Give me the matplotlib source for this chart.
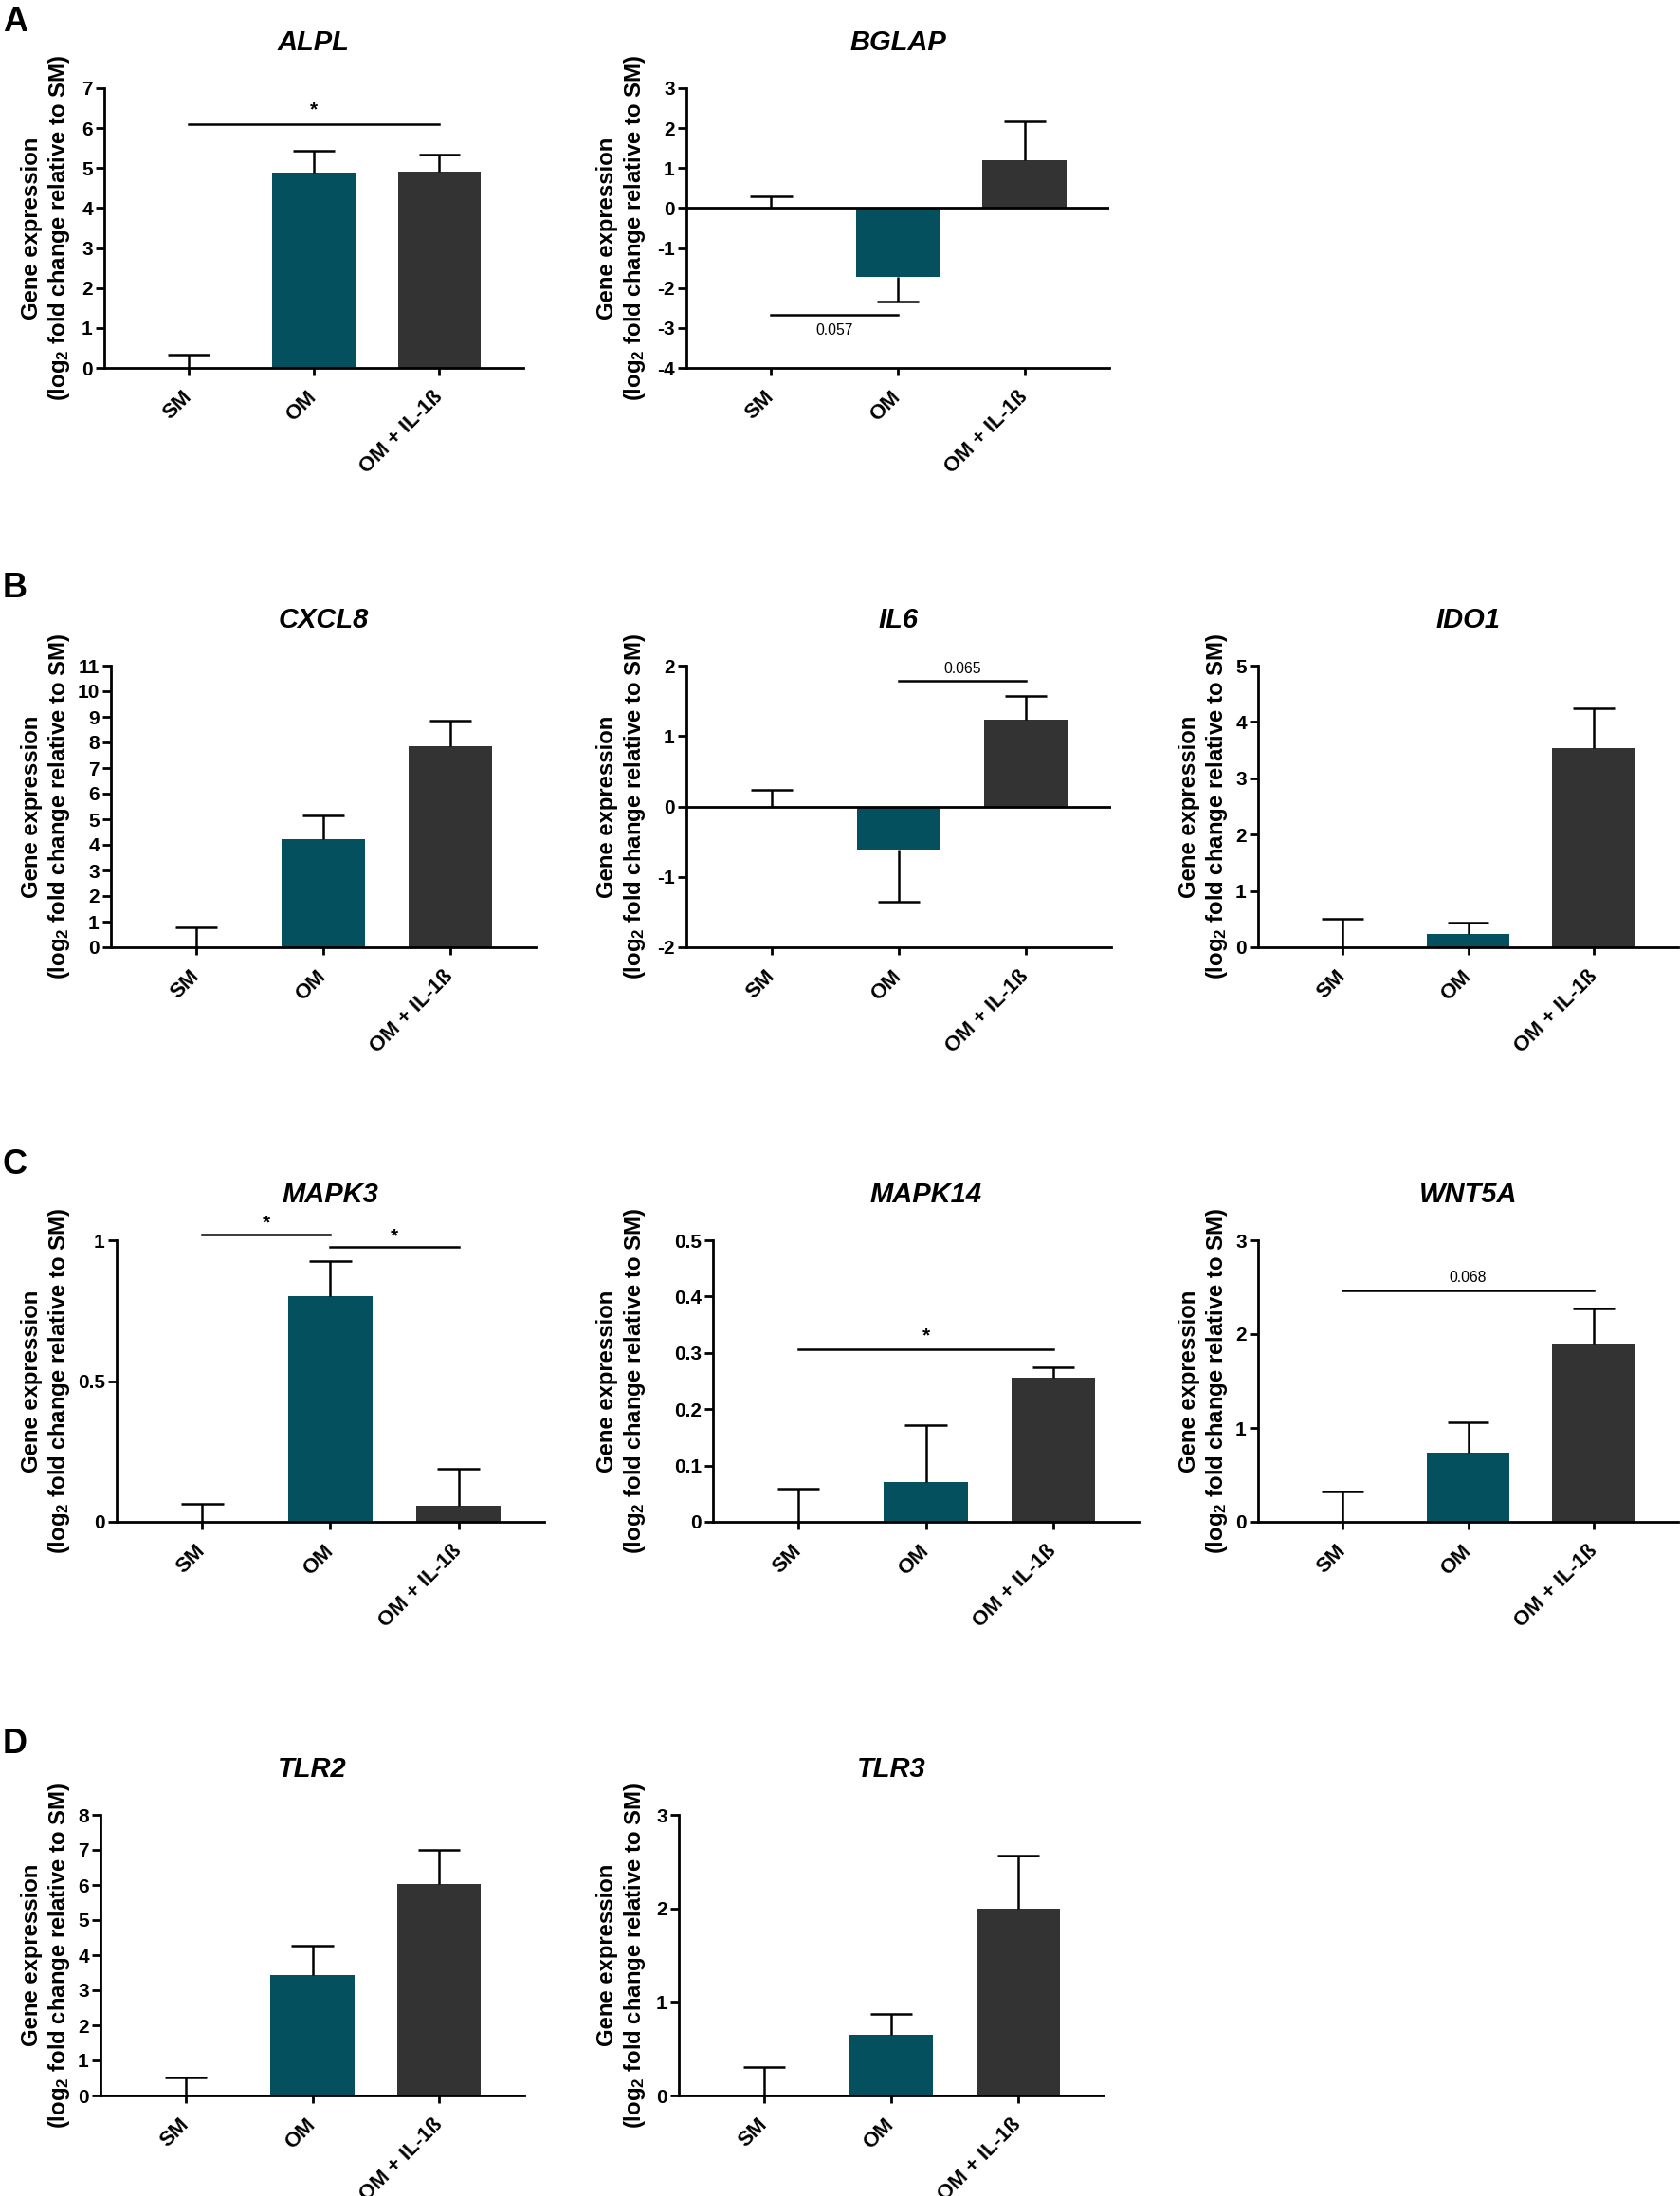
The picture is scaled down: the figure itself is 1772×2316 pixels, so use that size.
import matplotlib
matplotlib.use('Agg')
import matplotlib.pyplot as plt
from matplotlib.ticker import FuncFormatter

plt.rcParams['font.family'] = ['Liberation Sans', 'DejaVu Sans']
plt.rcParams['font.weight'] = 'bold'
plt.rcParams['axes.labelweight'] = 'bold'
plt.rcParams['axes.unicode_minus'] = False
plt.rcParams['mathtext.fontset'] = 'custom'
plt.rcParams['mathtext.rm'] = 'Liberation Sans:bold'
plt.rcParams['mathtext.bf'] = 'Liberation Sans:bold'
plt.rcParams['mathtext.it'] = 'Liberation Sans:italic:bold'
plt.rcParams['mathtext.default'] = 'bf'

# data (mean, one-sided error)
groups = ['SM', 'OM', 'OM + IL-1ß']
colors = ['white', '#05505f', '#333333']

alpl_mean = [0, 4.90, 4.92]
alpl_err = [0.34, 0.54, 0.42]
bglap_mean = [0, -1.72, 1.19]
bglap_err = [0.30, 0.62, 0.97]
cxcl8_mean = [0, 4.23, 7.86]
cxcl8_err = [0.76, 0.91, 1.01]
il6_mean = [0, -0.61, 1.23]
il6_err = [0.23, 0.75, 0.34]
ido1_mean = [0, 0.23, 3.54]
ido1_err = [0.51, 0.21, 0.71]
mapk3_mean = [0, 0.80, 0.057]
mapk3_err = [0.065, 0.125, 0.133]
mapk14_mean = [0, 0.071, 0.256]
mapk14_err = [0.059, 0.101, 0.019]
wnt5a_mean = [0, 0.74, 1.90]
wnt5a_err = [0.32, 0.32, 0.37]
tlr2_mean = [0, 3.42, 6.04]
tlr2_err = [0.51, 0.86, 0.96]
tlr3_mean = [0, 0.65, 2.0]
tlr3_err = [0.30, 0.22, 0.56]

# significance brackets: (from, to, line y, label, label y)
alpl_sig = [(0, 2, 6.1, '*', 6.45)]
bglap_sig = [(0, 1, -2.67, '0.057', -3.07)]
il6_sig = [(1, 2, 1.78, '0.065', 1.95)]
mapk3_sig = [(0, 1, 1.02, '*', 1.06), (1, 2, 0.975, '*', 1.015)]
mapk14_sig = [(0, 2, 0.306, '*', 0.33)]
wnt5a_sig = [(0, 2, 2.46, '0.068', 2.60)]

W, H = 1772, 2316
fig = plt.figure(figsize=(W / 200, H / 200), dpi=200)

# y-label centre of each column, in pixels
label_x = [49, 656, 1270]


def Panel(box, col, gene, mean, err, yticks, sig=()):
    '''One bar panel, box in pixels (x0, x1, ytop, ybottom)'''
    x0, x1, yt, yb = box
    ax = fig.add_axes([x0 / W, 1 - yb / H, (x1 - x0) / W, (yb - yt) / H])
    xs = range(len(groups))
    ax.bar(xs, mean, width=0.66, color=colors, zorder=2)
    for i in xs:
        sign = 1 if mean[i] >= 0 else -1
        end = mean[i] + sign * err[i]
        ax.vlines(i, mean[i], end, color='black', lw=0.9, zorder=3)
        ax.hlines(end, i - 0.165, i + 0.165, color='black', lw=0.9, zorder=3)
    if yticks[0] < 0:
        ax.axhline(0, color='black', lw=1.0, zorder=4)
    for a, b, y, lab, ty in sig:
        ax.plot([a, b], [y, y], color='black', lw=0.9, clip_on=False)
        if lab == '*':
            ax.text((a + b) / 2, ty, lab, ha='center', va='center',
                    fontsize=7.5, fontweight='bold')
        else:
            ax.text((a + b) / 2, ty, lab, ha='center', va='center',
                    fontsize=5.7, fontweight='normal')
    ax.set_xlim(-0.67, 2.67)
    ax.set_ylim(yticks[0], yticks[-1])
    ax.set_yticks(yticks)
    ax.yaxis.set_major_formatter(FuncFormatter(lambda v, p: '%g' % round(v, 3)))
    ax.set_xticks(list(xs))
    ax.set_xticklabels(groups, rotation=45, ha='right', va='center',
                       rotation_mode='anchor', fontweight='bold')
    for t in ax.get_yticklabels():
        t.set_fontweight('bold')
    for s in ['top', 'right']:
        ax.spines[s].set_visible(False)
    for s in ['left', 'bottom']:
        ax.spines[s].set_linewidth(1.0)
    ax.tick_params(axis='y', length=3.2, width=1.0, pad=1.2, labelsize=7.5)
    ax.tick_params(axis='x', length=3.0, width=1.0, pad=7, labelsize=8)
    ax.set_ylabel('Gene expression\n(log$_2$ fold change relative to SM)',
                  fontsize=8.6, fontweight='bold', va='center', linespacing=1.2)
    ax.yaxis.set_label_coords((label_x[col] - x0) / (x1 - x0), 0.5)
    ax.text(1, 1 + 48 / (yb - yt), gene, transform=ax.get_xaxis_transform(),
            ha='center', va='center', fontsize=10.5, fontweight='bold',
            fontstyle='italic')
    return ax


# row A
Panel((110, 552, 93, 388), 0, 'ALPL', alpl_mean, alpl_err, list(range(0, 8)), alpl_sig)
Panel((724, 1170, 93, 388), 1, 'BGLAP', bglap_mean, bglap_err, list(range(-4, 4)), bglap_sig)
# row B
Panel((117, 565, 702, 999), 0, 'CXCL8', cxcl8_mean, cxcl8_err, list(range(0, 12)))
Panel((724, 1172, 702, 999), 1, 'IL6', il6_mean, il6_err, list(range(-2, 3)), il6_sig)
Panel((1327, 1770, 702, 999), 2, 'IDO1', ido1_mean, ido1_err, list(range(0, 6)))
# row C
Panel((123, 574, 1308, 1605), 0, 'MAPK3', mapk3_mean, mapk3_err, [0, 0.5, 1], mapk3_sig)
Panel((752, 1201, 1308, 1605), 1, 'MAPK14', mapk14_mean, mapk14_err,
      [0, 0.1, 0.2, 0.3, 0.4, 0.5], mapk14_sig)
Panel((1327, 1770, 1308, 1605), 2, 'WNT5A', wnt5a_mean, wnt5a_err, list(range(0, 4)), wnt5a_sig)
# row D
Panel((106, 553, 1914, 2210), 0, 'TLR2', tlr2_mean, tlr2_err, list(range(0, 9)))
Panel((716, 1164, 1914, 2210), 1, 'TLR3', tlr3_mean, tlr3_err, list(range(0, 4)))

for lab, y in [('A', 6), ('B', 603), ('C', 1211), ('D', 1822)]:
    fig.text(3 / W, 1 - y / H, lab, fontsize=13, fontweight='bold', va='top', ha='left')

fig.savefig('out.png', dpi=200, facecolor='white')
